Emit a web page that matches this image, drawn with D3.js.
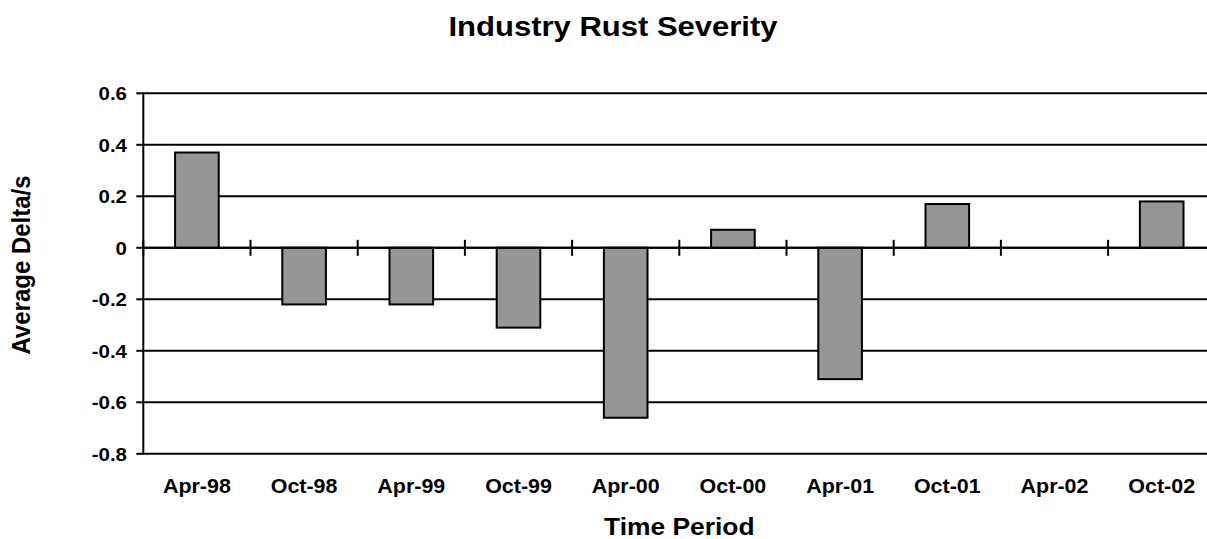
<!DOCTYPE html>
<html>
<head>
<meta charset="utf-8">
<script src="https://cdn.jsdelivr.net/npm/d3@7"></script>
<style>
  html, body { margin: 0; padding: 0; background: #fff; }
  text { font-family: "Liberation Sans", Arial, sans-serif; font-weight: bold; fill: #000; }
</style>
</head>
<body>
<svg id="chart" width="1207" height="539"></svg>
<script>
const categories = ["Apr-98","Oct-98","Apr-99","Oct-99","Apr-00","Oct-00","Apr-01","Oct-01","Apr-02","Oct-02"];
const values = [0.37, -0.22, -0.22, -0.31, -0.66, 0.07, -0.51, 0.17, 0, 0.18];
const yTicks = [0.6, 0.4, 0.2, 0, -0.2, -0.4, -0.6, -0.8];
const yTickLabels = ["0.6","0.4","0.2","0","-0.2","-0.4","-0.6","-0.8"];
const titleText = "Industry Rust Severity";
const xTitleText = "Time Period";
const yTitleText = "Average Delta/s";

(function () {
const SX = 1.1; // horizontal stretch of text
const svg = d3.select("#chart");
const pL = 143.3, pR = 1215.3, pT = 93.3, pB = 453.8;

const x = d3.scaleBand().domain(categories).range([pL, pR]).padding(0);
const y = d3.scaleLinear().domain([-0.8, 0.6]).range([pB, pT]);
const barW = x.bandwidth() * 0.407;

function stretchedText(sel, tx, ty, str, size, anchor) {
  const g = sel.append("g").attr("transform", `translate(${tx},${ty}) scale(${SX},1)`);
  g.append("text").attr("text-anchor", anchor).style("font-size", size + "px").text(str);
  return g;
}

// gridlines
svg.append("g").selectAll("line").data(yTicks).join("line")
  .attr("x1", pL).attr("x2", pR)
  .attr("y1", d => y(d)).attr("y2", d => y(d))
  .attr("stroke", "#000").attr("stroke-width", 2);

// bars
svg.append("g").selectAll("rect").data(values.map((v, i) => ({c: categories[i], v})).filter(d => d.v !== 0)).join("rect")
  .attr("x", d => x(d.c) + x.bandwidth() / 2 - barW / 2)
  .attr("width", barW)
  .attr("y", d => y(Math.max(0, d.v)))
  .attr("height", d => Math.abs(y(d.v) - y(0)))
  .attr("fill", "#969696").attr("stroke", "#000").attr("stroke-width", 2);

// zero line on top
svg.append("line").attr("x1", pL).attr("x2", pR).attr("y1", y(0)).attr("y2", y(0))
  .attr("stroke", "#000").attr("stroke-width", 2);

// x tick marks at category boundaries
const bounds = categories.map(c => x(c));
svg.append("g").selectAll("line").data(bounds).join("line")
  .attr("x1", d => d).attr("x2", d => d)
  .attr("y1", y(0) - 8).attr("y2", y(0) + 8)
  .attr("stroke", "#000").attr("stroke-width", 2);

// y axis
svg.append("line").attr("x1", pL).attr("x2", pL).attr("y1", pT - 1).attr("y2", pB + 1)
  .attr("stroke", "#000").attr("stroke-width", 2);
svg.append("g").selectAll("line").data(yTicks).join("line")
  .attr("x1", pL - 7).attr("x2", pL)
  .attr("y1", d => y(d)).attr("y2", d => y(d))
  .attr("stroke", "#000").attr("stroke-width", 2);

// y tick labels
yTicks.forEach((t, i) => {
  stretchedText(svg, 127, y(t) + 6.7, yTickLabels[i], 18.6, "end");
});

// x tick labels
categories.forEach(c => {
  stretchedText(svg, x(c) + x.bandwidth() / 2, 493.3, c, 19.5, "middle");
});

// titles
stretchedText(svg, 613, 35.5, titleText, 28.2, "middle");
stretchedText(svg, (pL + pR) / 2, 535, xTitleText, 24, "middle");
const yg = svg.append("g").attr("transform", `translate(30,265) scale(${SX},1) rotate(-90)`);
yg.append("text").attr("text-anchor", "middle").style("font-size", "24px").text(yTitleText);
})();
</script>
</body>
</html>
